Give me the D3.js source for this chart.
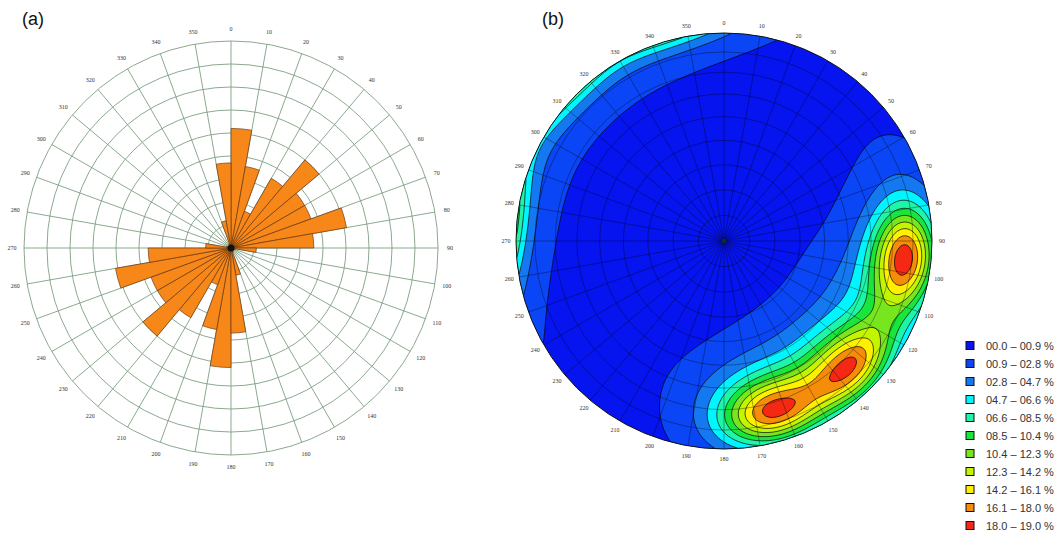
<!DOCTYPE html>
<html>
<head>
<meta charset="utf-8">
<script src="https://cdn.jsdelivr.net/npm/d3@7"></script>
<style>
  body { margin: 0; background: #fff; }
  svg { display: block; }
</style>
</head>
<body>
<svg id="chart" width="1059" height="537"></svg>
<script>
// ---------- (a) rose diagram: strike frequency in 10° bins (axial, mirrored through 180°) ----------
const roseBinStart = [0, 10, 20, 30, 40, 50, 60, 70, 80, 90, 100, 110, 120, 130, 140, 150, 160, 170];
const roseValues   = [5.2, 3.6, 1.7, 3.5, 5.0, 3.7, 3.7, 5.1, 3.6, 1.1, 0.2, 0.1, 0.1, 0.1, 0.1, 0.2, 1.2, 3.7];
const roseRings    = [1, 2, 3, 4, 5, 6, 7, 8, 9];
const azimuthTicks = [0, 10, 20, 30, 40, 50, 60, 70, 80, 90, 100, 110, 120, 130, 140, 150, 160, 170,
                      180, 190, 200, 210, 220, 230, 240, 250, 260, 270, 280, 290, 300, 310, 320, 330, 340, 350];

// ---------- (b) pole density stereonet (equal-area, lower hemisphere) ----------
const poleTrend  = [95, 135, 165, 150, 115, 110, 140, 165, 185, 70];
const polePlunge = [14, 16, 16, 17, 17, 40, 35, 33, 30, 12];
const poleWeight = [18, 15, 16, 2, 2.5, 0.8, 1.3, 1.3, 0.5, 0.6];
const plungeCircles = [10, 20, 30, 40, 50, 60, 70, 80];
const densityThresholds = [0.9, 2.8, 4.7, 6.6, 8.5, 10.4, 12.3, 14.2, 16.1, 18.0];
const legendLabels = ["00.0 – 00.9 %", "00.9 – 02.8 %", "02.8 – 04.7 %", "04.7 – 06.6 %", "06.6 – 08.5 %",
                      "08.5 – 10.4 %", "10.4 – 12.3 %", "12.3 – 14.2 %", "14.2 – 16.1 %", "16.1 – 18.0 %",
                      "18.0 – 19.0 %"];
const bandColors = ["#0614f0", "#0a46f5", "#1478f0", "#00f5ff", "#1ef5a8", "#19e63c",
                    "#78e61e", "#c3f500", "#fff000", "#f58c0a", "#f52814"];

const rad = Math.PI / 180;
const svg = d3.select("#chart");
const fontSans = "'Liberation Sans', Arial, sans-serif";
const fontTiny = "'Liberation Serif', 'DejaVu Serif', serif";

svg.append("text").attr("x", 22).attr("y", 25).attr("font-family", fontSans)
  .attr("font-size", 18).attr("fill", "#111").text("(a)");
svg.append("text").attr("x", 542).attr("y", 25).attr("font-family", fontSans)
  .attr("font-size", 18).attr("fill", "#111").text("(b)");

// ================= rose =================
const roseCx = 231, roseCy = 248, roseR = 207;
const rose = svg.append("g").attr("transform", `translate(${roseCx},${roseCy})`);
const rScale = d3.scaleLinear().domain([0, d3.max(roseRings)]).range([0, roseR]);
const gridGreen = "#7f9f82";

rose.append("g").selectAll("circle").data(roseRings).join("circle")
  .attr("r", d => rScale(d)).attr("fill", "none")
  .attr("stroke", gridGreen).attr("stroke-width", 0.9);

rose.append("g").selectAll("line").data(azimuthTicks).join("line")
  .attr("x1", 0).attr("y1", 0)
  .attr("x2", d => rScale(d3.max(roseRings)) * Math.sin(d * rad))
  .attr("y2", d => -rScale(d3.max(roseRings)) * Math.cos(d * rad))
  .attr("stroke", gridGreen).attr("stroke-width", 0.9);

const roseBars = [];
roseBinStart.forEach((a, i) => {
  roseBars.push({ a0: a, a1: a + 10, v: roseValues[i] });
  roseBars.push({ a0: a + 180, a1: a + 190, v: roseValues[i] });
});
const roseArc = d3.arc().innerRadius(0)
  .outerRadius(d => rScale(d.v))
  .startAngle(d => d.a0 * rad).endAngle(d => d.a1 * rad);
rose.append("g").selectAll("path").data(roseBars).join("path")
  .attr("d", roseArc).attr("fill", "#f8871a")
  .attr("stroke", "#6b3a12").attr("stroke-width", 0.7);

rose.append("circle").attr("r", 3.5).attr("fill", "#111");

rose.append("g").selectAll("text").data(azimuthTicks).join("text")
  .attr("x", d => 219 * Math.sin(d * rad))
  .attr("y", d => -219 * Math.cos(d * rad))
  .attr("text-anchor", "middle").attr("dominant-baseline", "central")
  .attr("font-family", fontTiny).attr("font-size", 6).attr("fill", "#333")
  .text(d => d);

// ================= stereonet =================
const netCx = 724, netCy = 241, netR = 208;
const net = svg.append("g").attr("transform", `translate(${netCx},${netCy})`);
const eqArea = p => netR * Math.SQRT2 * Math.sin((90 - p) / 2 * rad);

const clip = svg.append("defs").append("clipPath").attr("id", "netClip");
clip.append("circle").attr("cx", 0).attr("cy", 0).attr("r", netR);

function toVec(t, p) {
  return [Math.cos(p * rad) * Math.sin(t * rad), Math.cos(p * rad) * Math.cos(t * rad), Math.sin(p * rad)];
}
const poleVecs = poleTrend.map((t, i) => toVec(t, polePlunge[i]));
// counting kernel (axial): sharp core plus a weak wide tail
const kernel = c => 0.9 * Math.exp(28 * (c - 1)) + 0.1 * Math.exp(6 * (c - 1));

const step = 2, pad = 6;
const n = Math.ceil((2 * netR + 2 * pad) / step);
const x0 = -netR - pad;
const grid = new Float64Array(n * n);
for (let j = 0; j < n; j++) {
  for (let i = 0; i < n; i++) {
    const x = x0 + (i + 0.5) * step, y = x0 + (j + 0.5) * step;
    const r = Math.min(Math.hypot(x, y) / netR, 1);
    const th = 2 * Math.asin(r / Math.SQRT2);
    const t = Math.atan2(x, -y);
    const v = [Math.sin(th) * Math.sin(t), Math.sin(th) * Math.cos(t), Math.cos(th)];
    let s = 0;
    poleVecs.forEach((p, k) => {
      const c = Math.abs(v[0] * p[0] + v[1] * p[1] + v[2] * p[2]);
      s += poleWeight[k] * kernel(c);
    });
    grid[j * n + i] = s;
  }
}
const bands = d3.contours().size([n, n]).thresholds(densityThresholds)(grid);
const gridPath = d3.geoPath(d3.geoIdentity().scale(step).translate([x0, x0]));

const netBody = net.append("g").attr("clip-path", "url(#netClip)");
netBody.append("circle").attr("r", netR).attr("fill", bandColors[0]);
netBody.append("g").selectAll("path").data(bands).join("path")
  .attr("d", gridPath)
  .attr("fill", (d, i) => bandColors[i + 1])
  .attr("stroke", "#000").attr("stroke-width", 0.8).attr("stroke-opacity", 0.85);

// polar net
const netGrid = netBody.append("g").attr("stroke", "#000").attr("stroke-opacity", 0.38)
  .attr("stroke-width", 0.9).attr("fill", "none");
netGrid.selectAll("circle").data(plungeCircles).join("circle").attr("r", d => eqArea(d));
netGrid.selectAll("line").data(azimuthTicks).join("line")
  .attr("x1", 0).attr("y1", 0)
  .attr("x2", d => netR * Math.sin(d * rad)).attr("y2", d => -netR * Math.cos(d * rad));

net.append("circle").attr("r", netR).attr("fill", "none").attr("stroke", "#111").attr("stroke-width", 1);
net.append("circle").attr("r", 2.5).attr("fill", "#0a2a3a");

net.append("g").selectAll("text").data(azimuthTicks).join("text")
  .attr("x", d => 218 * Math.sin(d * rad))
  .attr("y", d => -218 * Math.cos(d * rad))
  .attr("text-anchor", "middle").attr("dominant-baseline", "central")
  .attr("font-family", fontTiny).attr("font-size", 6).attr("fill", "#333")
  .text(d => d);

// legend
const legend = svg.append("g").attr("transform", "translate(966,345.5)");
const rows = legend.selectAll("g").data(legendLabels).join("g")
  .attr("transform", (d, i) => `translate(0,${i * 18})`);
rows.append("rect").attr("x", 0).attr("y", -4).attr("width", 8).attr("height", 8)
  .attr("fill", (d, i) => bandColors[i]).attr("stroke", "#111").attr("stroke-width", 1);
rows.append("text").attr("x", 20).attr("y", 4).attr("font-family", fontSans)
  .attr("font-size", 11).attr("fill", "#333").text(d => d);
</script>
</body>
</html>
